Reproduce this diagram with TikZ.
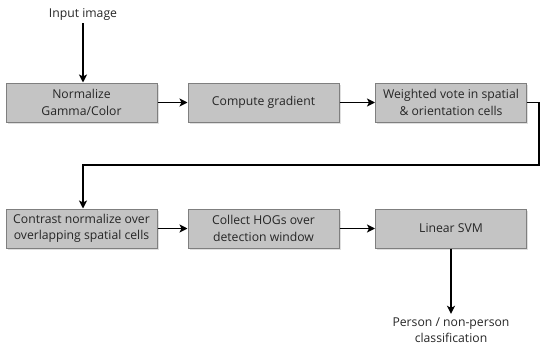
\documentclass[tikz,border=0pt]{standalone}
\usepackage{fontspec}
\setmainfont{Open Sans}
\usetikzlibrary{arrows.meta,shadows}
\definecolor{boxfill}{HTML}{C4C4C4}
\definecolor{boxline}{HTML}{7F7F7F}
\tikzset{
    stepbox/.style={draw=boxline,fill=boxfill,line width=1pt,minimum width=151pt,minimum height=39pt,
        align=center,inner sep=1pt,text=black!85,font=\fontsize{12.2}{16.5}\selectfont,
        drop shadow={shadow xshift=1.5pt,shadow yshift=-1.5pt,opacity=0.25}},
    flow/.style={-{Stealth[length=8pt,width=8pt,inset=2pt]},line width=1.8pt},
    label/.style={align=center,text=black!85,font=\fontsize{12.2}{16.5}\selectfont}
}
\begin{document}
\begin{tikzpicture}[x=1pt,y=-1pt]
        \useasboundingbox (0,0) rectangle (540,348);
        \node[label] (input) at (83,14) {Input image};
        \node[stepbox] (norm) at (81.5,102.5) {Normalize\\Gamma/Color};
        \node[stepbox] (grad) at (263.5,102.5) {Compute gradient};
        \node[stepbox] (vote) at (451,102.5) {Weighted vote in spatial\\\& orientation cells};
        \node[stepbox] (contrast) at (81.5,228.5) {Contrast normalize over\\overlapping spatial cells};
        \node[stepbox] (collect) at (263.5,228.5) {Collect HOGs over\\detection window};
        \node[stepbox] (svm) at (451,228.5) {Linear SVM};
        \node[label] (output) at (451,330) {Person / non-person\\classification};
        \coordinate (turn) at (539,165);
        \draw[flow] (input) -- (norm.north -| input);
        \draw[flow] (norm) -- (grad);
        \draw[flow] (grad) -- (vote);
        \draw[flow] (vote.east) -| (turn) -| (contrast.north -| input);
        \draw[flow] (contrast) -- (collect);
        \draw[flow] (collect) -- (svm);
        \draw[flow] (svm) -- (output);
    \end{tikzpicture}
\end{document}
